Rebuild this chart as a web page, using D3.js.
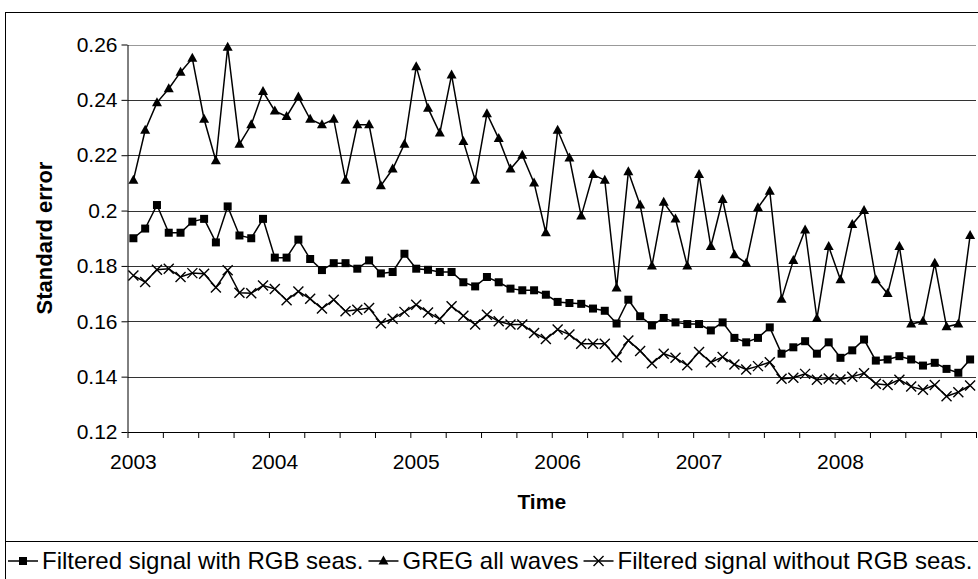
<!DOCTYPE html>
<html>
<head>
<meta charset="utf-8">
<script src="https://cdn.jsdelivr.net/npm/d3@7"></script>
<style>
  body { margin: 0; background: #fff; }
  svg { display: block; font-family: "Liberation Sans", Arial, sans-serif; }
</style>
</head>
<body>
<svg id="chart" width="978" height="579"></svg>
<script>
// one value per month, Jan 2003 .. Dec 2008
const yearLabels = ["2003", "2004", "2005", "2006", "2007", "2008"];
const yTicks = [0.12, 0.14, 0.16, 0.18, 0.2, 0.22, 0.24, 0.26];
const yTickLabels = ["0.12", "0.14", "0.16", "0.18", "0.2", "0.22", "0.24", "0.26"];

const withRgb = [
  0.190, 0.1935, 0.202, 0.192, 0.192, 0.196, 0.197, 0.1885, 0.2015, 0.191,
  0.190, 0.197, 0.183, 0.183, 0.1895, 0.1825, 0.1785, 0.181, 0.181, 0.179,
  0.182, 0.1773, 0.1778, 0.1844, 0.179, 0.1786, 0.1778, 0.1778, 0.1741, 0.1726,
  0.176, 0.1741, 0.1718, 0.1712, 0.1712, 0.1696, 0.167, 0.1666, 0.1663, 0.1646,
  0.1638, 0.1592, 0.1678, 0.1618, 0.1585, 0.1612, 0.1596, 0.159, 0.159, 0.1567,
  0.1596, 0.154, 0.1524, 0.154, 0.1578, 0.1483, 0.1506, 0.1528, 0.1483, 0.1524,
  0.1468, 0.1495, 0.1534, 0.1458, 0.1462, 0.1474, 0.1462, 0.144, 0.145, 0.1428,
  0.1414, 0.1462
];
const gregAll = [
  0.211, 0.229, 0.239, 0.244, 0.250, 0.255, 0.233, 0.218, 0.259, 0.224,
  0.231, 0.243, 0.236, 0.234, 0.241, 0.233, 0.231, 0.233, 0.211, 0.231,
  0.231, 0.209, 0.215, 0.224, 0.252, 0.237, 0.228, 0.249, 0.225, 0.211,
  0.235, 0.226, 0.215, 0.220, 0.210, 0.192, 0.229, 0.219, 0.198, 0.213,
  0.211, 0.172, 0.214, 0.202, 0.180, 0.203, 0.197, 0.180, 0.213, 0.187,
  0.204, 0.184, 0.181, 0.201, 0.207, 0.168, 0.182, 0.193, 0.161, 0.187,
  0.175, 0.195, 0.200, 0.175, 0.170, 0.187, 0.159, 0.160, 0.181, 0.158,
  0.159, 0.191
];
const withoutRgb = [
  0.1765, 0.1742, 0.1786, 0.179, 0.176, 0.1774, 0.1772, 0.1722, 0.1784, 0.1703,
  0.1701, 0.1729, 0.1717, 0.1676, 0.1708, 0.1681, 0.1646, 0.1678, 0.1636, 0.1642,
  0.1648, 0.1593, 0.1609, 0.1634, 0.166, 0.1632, 0.1608, 0.1654, 0.162, 0.1588,
  0.1624, 0.16, 0.1588, 0.1588, 0.1558, 0.1536, 0.157, 0.1552, 0.1519, 0.1519,
  0.1519, 0.147, 0.1531, 0.1493, 0.1448, 0.1483, 0.1468, 0.1441, 0.1489, 0.1452,
  0.1471, 0.1444, 0.1426, 0.1438, 0.1452, 0.1392, 0.1396, 0.141, 0.1389, 0.1393,
  0.139, 0.140, 0.1412, 0.1374, 0.137, 0.1389, 0.1364, 0.1353, 0.137, 0.1329,
  0.1344, 0.1368
];

const series = [
  {name: "Filtered signal with RGB seas.", values: withRgb, marker: "square"},
  {name: "GREG all waves", values: gregAll, marker: "triangle"},
  {name: "Filtered signal without RGB seas.", values: withoutRgb, marker: "cross"}
];

const plot = {left: 127.5, right: 976, top: 44.5, bottom: 432};
const fontSize = 21;
const legendFontSize = 24;

const svg = d3.select("#chart");

// outer frame and legend separator
svg.append("rect")
  .attr("x", 5.5).attr("y", 12.5)
  .attr("width", 980).attr("height", 580)
  .attr("fill", "#fff").attr("stroke", "#000");
svg.append("line")
  .attr("x1", 5.5).attr("x2", 978)
  .attr("y1", 541.5).attr("y2", 541.5)
  .attr("stroke", "#000");

const n = withRgb.length;
const x = d3.scaleBand().domain(d3.range(n)).range([plot.left, plot.right]).padding(0);
const xTick = d3.scaleLinear().domain([0, n]).range([plot.left, plot.right]);
const y = d3.scaleLinear().domain([0.12, 0.26]).range([plot.bottom, plot.top]);
const cx = i => x(i) + x.bandwidth() / 2;

// gridlines
svg.append("g")
  .selectAll("line").data(yTicks.slice(1)).join("line")
  .attr("x1", plot.left).attr("x2", plot.right)
  .attr("y1", d => Math.round(y(d)) + 0.5).attr("y2", d => Math.round(y(d)) + 0.5)
  .attr("stroke", (d, i) => i === yTicks.length - 2 ? "#999" : "#333")
  .attr("stroke-width", 1);

// y axis
const yAxis = svg.append("g")
  .attr("transform", `translate(${plot.left},0)`)
  .call(d3.axisLeft(y).tickValues(yTicks).tickSize(6).tickSizeOuter(0)
    .tickFormat((d, i) => yTickLabels[i]));
yAxis.select(".domain").attr("stroke", "#000");
yAxis.selectAll("text")
  .attr("font-size", fontSize).attr("font-family", "Liberation Sans, Arial, sans-serif")
  .attr("fill", "#000").attr("x", -10);

// x axis
const xAxis = svg.append("g")
  .attr("transform", `translate(0,${plot.bottom})`)
  .call(d3.axisBottom(xTick).tickValues(d3.range(0, n + 1, 3)).tickSize(6)
    .tickSizeOuter(0).tickFormat(""));
xAxis.select(".domain").attr("stroke", "#000");

svg.append("g")
  .selectAll("text").data(yearLabels).join("text")
  .attr("x", (d, i) => cx(i * 12))
  .attr("y", 469)
  .attr("text-anchor", "middle")
  .attr("font-size", fontSize)
  .text(d => d);

// axis titles
svg.append("text")
  .attr("x", (plot.left + plot.right) / 2 - 10).attr("y", 509)
  .attr("text-anchor", "middle")
  .attr("font-size", fontSize).attr("font-weight", "bold")
  .text("Time");
svg.append("text")
  .attr("transform", "translate(52,238) rotate(-90)")
  .attr("text-anchor", "middle")
  .attr("font-size", 22).attr("font-weight", "bold")
  .text("Standard error");

// markers
function drawMarker(g, type, px, py) {
  if (type === "square") {
    g.append("rect").attr("x", px - 4).attr("y", py - 4)
      .attr("width", 8).attr("height", 8).attr("fill", "#000");
  } else if (type === "triangle") {
    g.append("path")
      .attr("d", `M${px},${py - 5.5}L${px + 5},${py + 3.5}L${px - 5},${py + 3.5}Z`)
      .attr("fill", "#000");
  } else {
    g.append("path")
      .attr("d", `M${px - 5},${py - 5}L${px + 5},${py + 5}M${px - 5},${py + 5}L${px + 5},${py - 5}`)
      .attr("stroke", "#000").attr("stroke-width", 1.4).attr("fill", "none");
  }
}

const line = d3.line().x((d, i) => cx(i)).y(d => y(d));

series.forEach(s => {
  const g = svg.append("g");
  g.append("path")
    .attr("d", line(s.values))
    .attr("fill", "none").attr("stroke", "#000").attr("stroke-width", 1.5);
  s.values.forEach((v, i) => drawMarker(g, s.marker, cx(i), y(v)));
});

// legend
let lx = 8;
const ly = 561;
series.forEach(s => {
  const g = svg.append("g");
  g.append("line")
    .attr("x1", lx).attr("x2", lx + 30)
    .attr("y1", ly).attr("y2", ly)
    .attr("stroke", "#000").attr("stroke-width", 1.5);
  drawMarker(g, s.marker, lx + 15, ly);
  const t = g.append("text")
    .attr("x", lx + 34).attr("y", ly + 8)
    .attr("font-size", legendFontSize)
    .text(s.name);
  lx += 34 + t.node().getComputedTextLength() + 5;
});
</script>
</body>
</html>
